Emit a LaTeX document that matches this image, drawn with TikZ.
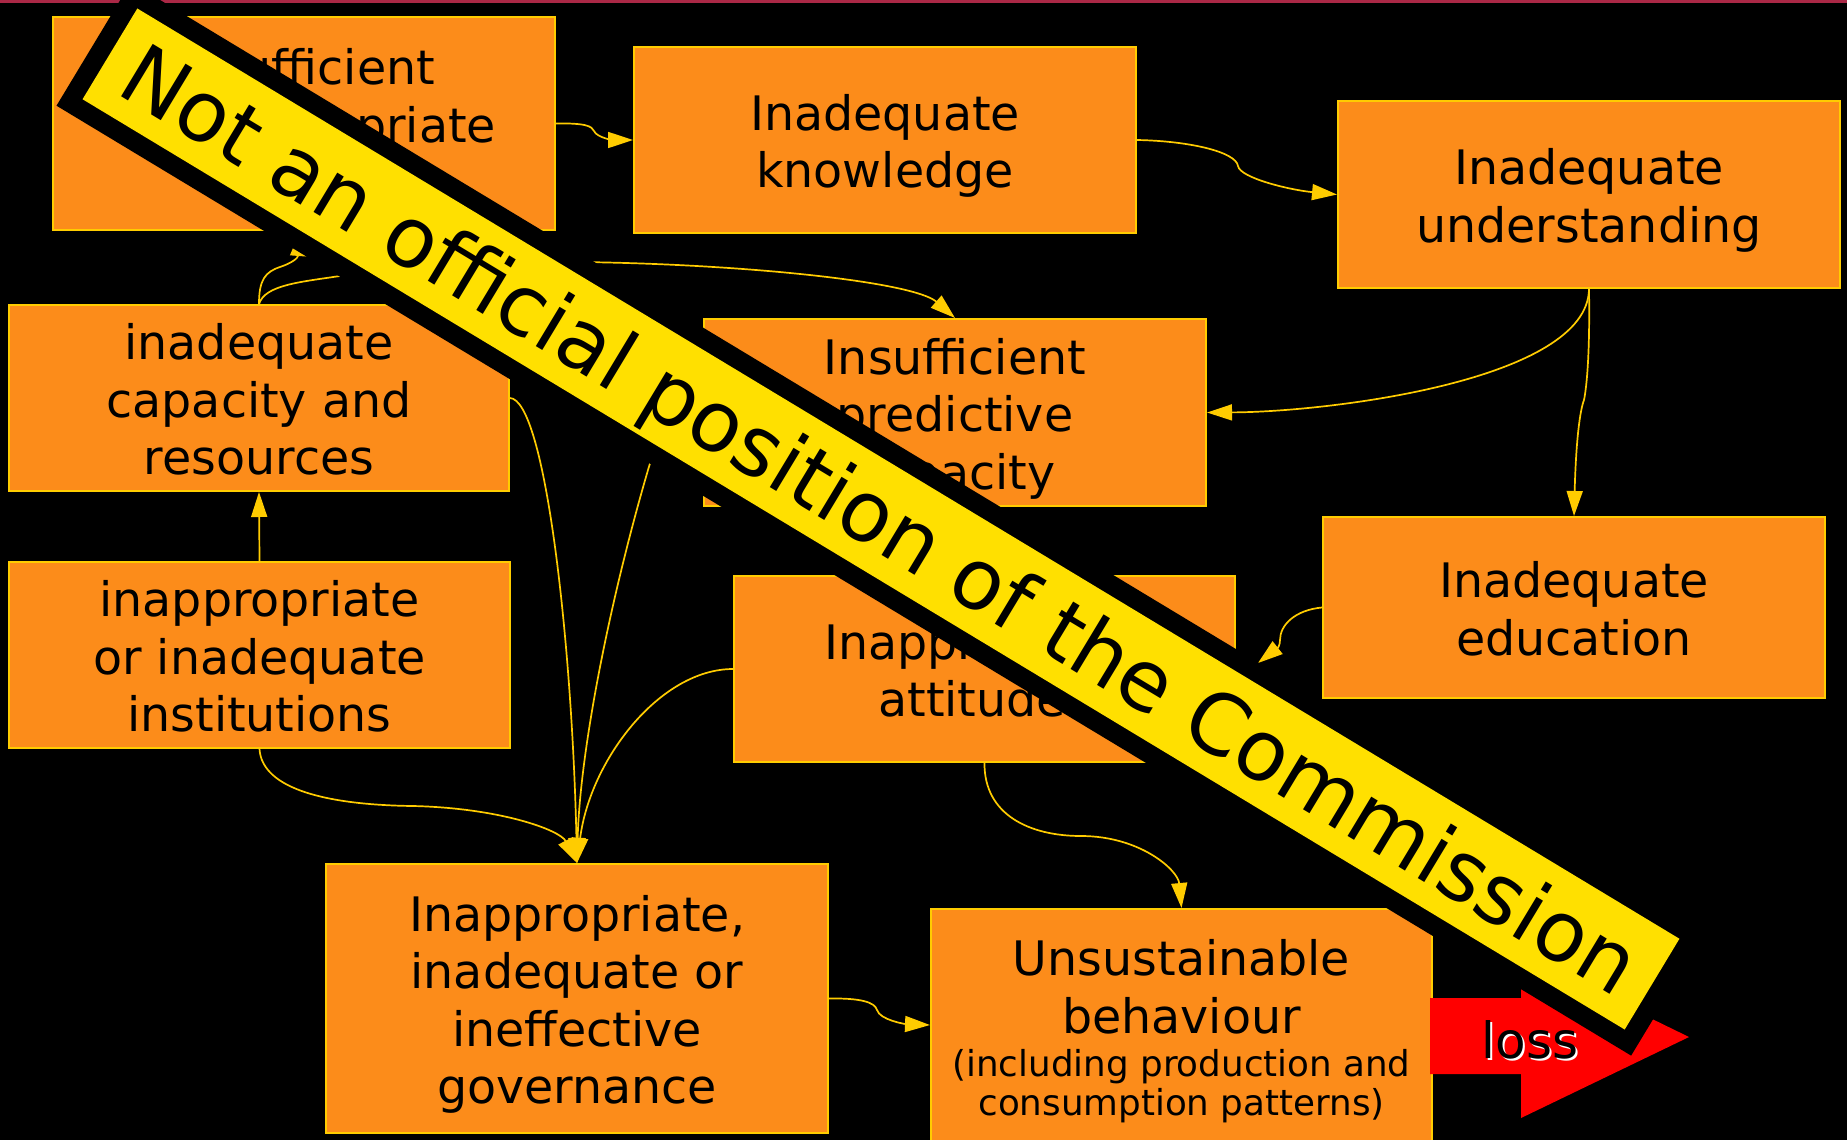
\documentclass[tikz,border=0pt]{standalone}
\usepackage{fontspec}
\setmainfont{DejaVu Sans}
\usetikzlibrary{arrows.meta}
\definecolor{boxorange}{RGB}{252,140,26}
\definecolor{linegold}{RGB}{255,204,0}
\definecolor{banneryellow}{RGB}{255,224,0}
\definecolor{topred}{RGB}{170,40,70}
\definecolor{lossred}{RGB}{255,0,0}
\newcommand{\bxtop}{\rule{0pt}{25pt}}
\newcommand{\bxbot}{\rule[-6pt]{0pt}{0pt}}
\newcommand{\smtop}{\rule{0pt}{16pt}}
\newcommand{\smbot}{\rule[-4.5pt]{0pt}{0pt}}
\begin{document}
\begin{tikzpicture}[x=0.5pt,y=-0.5pt,
  cbox/.style={draw=linegold,line width=1pt,fill=boxorange,inner sep=0pt,align=center,text=black,font=\fontsize{23.75pt}{28.75pt}\selectfont},
  ctext/.style={inner sep=0pt,align=center,text=black,font=\fontsize{23.75pt}{28.75pt}\selectfont},
  smalltext/.style={inner sep=0pt,align=center,text=black,font=\fontsize{17.85pt}{19.25pt}\selectfont},
  link/.style={draw=linegold,line width=0.85pt,-{Triangle[length=12.5pt,width=8pt]}},
  losstext/.style={inner sep=0pt,font=\fontsize{25pt}{30pt}\selectfont},
  bannerbox/.style={inner sep=0pt,rotate=-31.1},
]
\useasboundingbox (0,0) rectangle (1847,1140);
\clip (0,0) rectangle (1847,1140);
\fill[black] (0,0) rectangle (1847,1140);
\draw[topred,line width=1.65pt] (0,1.65) -- (1847,1.65);

% boxes
\node[cbox,minimum width=251pt,minimum height=106.5pt] (b1) at (304,123.5) {};
\node[ctext] (b1t) at (304,94.5) {\bxtop Insufficient\\or inappropriate\bxbot};
\node[cbox,minimum width=251pt,minimum height=93pt] (b2) at (885,140) {\bxtop Inadequate\\knowledge\bxbot};
\node[cbox,minimum width=251pt,minimum height=93.5pt] (b3) at (1589,194.5) {\bxtop Inadequate\\understanding\bxbot};
\node[cbox,minimum width=250pt,minimum height=93pt] (b4) at (259,398) {\bxtop inadequate\\capacity and\\resources\bxbot};
\node[cbox,minimum width=251pt,minimum height=93.5pt] (b5) at (955,412.5) {\bxtop Insufficient\\predictive\\capacity\bxbot};
\node[cbox,minimum width=250.5pt,minimum height=93pt] (b6) at (259.5,655) {\bxtop inappropriate\\or inadequate\\institutions\bxbot};
\node[cbox,minimum width=251pt,minimum height=90.5pt] (b7) at (1574,607.5) {\bxtop Inadequate\\education\bxbot};
\node[cbox,minimum width=250.5pt,minimum height=93pt] (b8) at (984.5,669) {\bxtop Inappropriate\\attitudes\bxbot};
\node[cbox,minimum width=251pt,minimum height=134.5pt] (b9) at (577,998.5) {\bxtop Inappropriate,\\inadequate or\\ineffective\\governance\bxbot};
\node[cbox,minimum width=250.5pt,minimum height=125.5pt] (b10) at (1181.5,1034.5) {};
\node[ctext] (b10a) at (1181.5,985.5) {\bxtop Unsustainable\\behaviour\bxbot};
\node[smalltext] (b10b) at (1181.5,1084.5) {\smtop(including production and\\consumption patterns)\smbot};

% connectors
\draw[link] (b1.east) .. controls (585,123) and (592,126) .. (594,131) .. controls (597,138) and (615,140) .. (b2.west);
\draw[link] (b2.east) .. controls (1190,141) and (1236,152) .. (1238,166) .. controls (1240,178) and (1290,190) .. (b3.west);
\draw[link] (b3.south) .. controls (1588,380) and (1330,412) .. (b5.east);
\draw[link] (b3.south) .. controls (1590,350) and (1587,385) .. (1584,400) .. controls (1580,410) and (1576,440) .. (b7.north);
\draw[link] (b7.west) .. controls (1295,610) and (1280,625) .. (1280,640) .. controls (1280,650) and (1272,652) .. ([xshift=11pt,yshift=3pt]b8.east);
\draw[link] (b4.north) .. controls (259,280) and (265,272) .. (280,267) .. controls (292,263) and (298,258) .. ([xshift=-2pt]b1.south);
\draw[link] (b4.north) .. controls (265,285) and (300,282) .. (340,276) .. controls (500,245) and (900,270) .. (b5.north);
\draw[link] (b4.east) .. controls (545,400) and (572,640) .. (b9.north);
\draw[link] (b5.west) .. controls (670,420) and (655,445) .. (648,470) .. controls (610,600) and (580,750) .. (b9.north);
\draw[link] (b6.south) .. controls (262,790) and (330,805) .. (413,806) .. controls (500,808) and (560,830) .. (b9.north);
\draw[link] (b8.west) .. controls (660,669) and (590,760) .. (b9.north);
\draw[link] (b6.north) -- (b4.south);
\draw[link] (b8.south) .. controls (984,815) and (1030,836) .. (1081,836) .. controls (1140,836) and (1178,870) .. (b10.north);
\draw[link] (b9.east) .. controls (860,998) and (875,1002) .. (877,1010) .. controls (880,1020) and (905,1024) .. ([yshift=4.75pt]b10.west);

% loss arrow
\fill[lossred] (1430,998) -- (1521,998) -- (1521,955) -- (1689,1037) -- (1521,1118) -- (1521,1074) -- (1430,1074) -- cycle;
\node[losstext,text=white] (lossshadow) at (1532,1042) {loss};
\node[losstext,text=black] (loss) at (1530,1040) {loss};

% banner
\node[bannerbox,fill=black,minimum width=919.5pt,minimum height=72pt] (bannershadow) at (881,519) {};
\node[bannerbox,fill=banneryellow,minimum width=900.5pt,minimum height=53pt] (banner) at (881,519) {};
\node[bannerbox,font=\fontsize{42pt}{50pt}\selectfont,text height=30.66pt,text depth=0pt] (bannertext) at (881,519) {Not an official position of the Commission};
\end{tikzpicture}
\end{document}
